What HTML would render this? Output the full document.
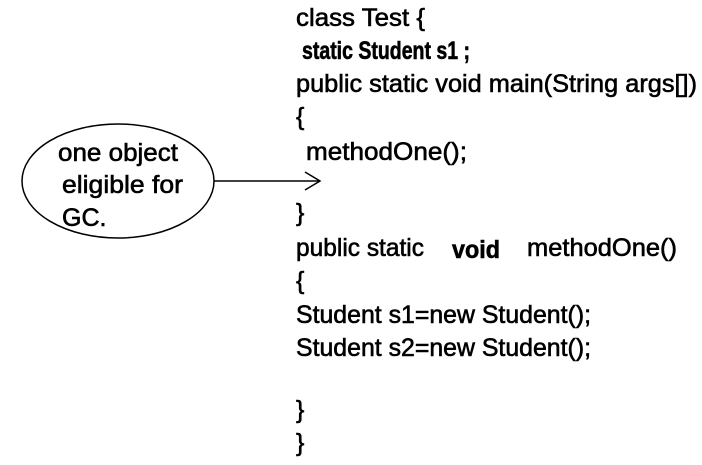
<!DOCTYPE html>
<html><head><meta charset="utf-8"><style>
html,body{margin:0;padding:0;background:#fff;}
svg{display:block;}
text{font-family:"Liberation Sans",sans-serif;font-size:25px;fill:#000;stroke:#000;stroke-width:0.6;}
</style></head><body>
<svg width="702" height="465" viewBox="0 0 702 465" xmlns="http://www.w3.org/2000/svg">
<ellipse cx="118" cy="181" rx="96" ry="57" fill="none" stroke="#000" stroke-width="1.5"/>
<line x1="214" y1="181" x2="320" y2="181" stroke="#000" stroke-width="1.5"/>
<polyline points="305,172 320,181 305,190" fill="none" stroke="#000" stroke-width="1.5"/>
<text x="58" y="161" textLength="120" lengthAdjust="spacingAndGlyphs">one object</text>
<text x="62" y="193" textLength="121" lengthAdjust="spacingAndGlyphs">eligible for</text>
<text x="62" y="226" font-size="23">GC.</text>

<text x="296" y="26" textLength="129" lengthAdjust="spacingAndGlyphs">class Test  {</text>
<text x="302" y="59" font-weight="bold" font-size="22" textLength="168" lengthAdjust="spacingAndGlyphs">static Student s1 ;</text>
<text x="296" y="92" textLength="401" lengthAdjust="spacingAndGlyphs">public static void main(String args[])</text>
<text x="296" y="125">{</text>
<text x="306" y="160" textLength="161" lengthAdjust="spacingAndGlyphs">methodOne();</text>
<text x="296" y="221">}</text>
<text x="296" y="256" textLength="128" lengthAdjust="spacingAndGlyphs">public static</text>
<text x="452" y="258" font-weight="bold" font-size="23" textLength="48" lengthAdjust="spacingAndGlyphs">void</text>
<text x="527" y="256" textLength="150" lengthAdjust="spacingAndGlyphs">methodOne()</text>
<text x="296" y="289">{</text>
<text x="296" y="323" textLength="295" lengthAdjust="spacingAndGlyphs">Student s1=new Student();</text>
<text x="296" y="356" textLength="295" lengthAdjust="spacingAndGlyphs">Student s2=new Student();</text>
<text x="296" y="418">}</text>
<text x="296" y="451">}</text>
</svg>
</body></html>
